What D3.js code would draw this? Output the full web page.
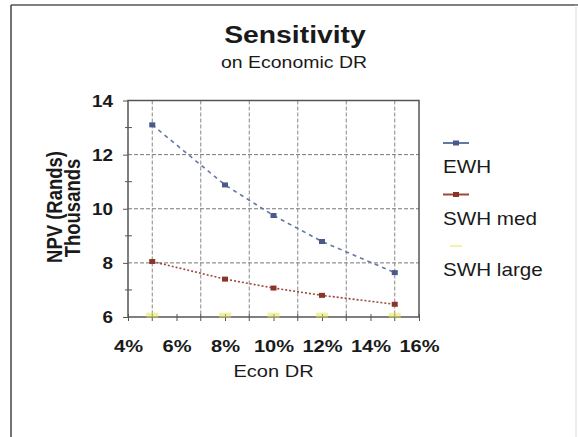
<!DOCTYPE html>
<html>
<head>
<meta charset="utf-8">
<script src="https://cdn.jsdelivr.net/npm/d3@7"></script>
<style>
  html, body { margin: 0; padding: 0; background: #fff; }
  text { font-family: Arial, "Liberation Sans", sans-serif; fill: #1a1a1a; }
</style>
</head>
<body>
<div id="chart"></div>
<script>
// values
var rates = [0.05, 0.08, 0.10, 0.12, 0.15];
var ewh = [13.1, 10.88, 9.75, 8.79, 7.64];
var swhMed = [8.05, 7.4, 7.07, 6.8, 6.47];
var swhLarge = [6.05, 6.05, 6.05, 6.05, 6.05];

var seriesNames = ["EWH", "SWH med", "SWH large"];
var seriesColors = ["#6577a6", "#9a4a3c", "#eded6a"];
var markerColors = ["#4a5a88", "#8a3626", "#e6e65a"];

var xTicks = [0.04, 0.06, 0.08, 0.10, 0.12, 0.14, 0.16];
var xMinor = [0.05, 0.07, 0.09, 0.11, 0.13, 0.15];
var yTicks = [6, 8, 10, 12, 14];
var yMinor = [7, 9, 11, 13];

var w = 578;
var h = 437;
var stretch = 1.18; // the scanned picture is wider than tall

var svg = d3.select("#chart")
            .append("svg")
            .attr("width", w)
            .attr("height", h)

var xScale = d3.scaleLinear()
               .domain([0.04, 0.16])
               .range([128, 419]);

var yScale = d3.scaleLinear()
               .domain([6, 14])
               .range([317, 100.5]);

// outer chart frame
svg.append("line").attr("x1", 11).attr("x2", 11).attr("y1", 5).attr("y2", h)
   .attr("stroke", "#444").attr("stroke-width", 1.5)
svg.append("line").attr("x1", 11).attr("x2", w).attr("y1", 5).attr("y2", 5)
   .attr("stroke", "#555").attr("stroke-width", 1.5)
svg.append("line").attr("x1", 576).attr("x2", 576).attr("y1", 5).attr("y2", h)
   .attr("stroke", "#ddd").attr("stroke-width", 1)

function label(x, y, txt, size, weight, anchor, rotate) {
  return svg.append("text")
    .attr("transform", "translate(" + x + "," + y + ") scale(" + stretch + ",1)" + (rotate ? " rotate(-90)" : ""))
    .attr("text-anchor", anchor || "middle")
    .style("font-size", size + "px")
    .style("font-weight", weight || "normal")
    .text(txt)
}

// titles
label(295, 43, "Sensitivity", 24, "bold")
label(294, 68, "on Economic DR", 16.5)
label(273.5, 377, "Econ DR", 17)
label(62, 207, "NPV (Rands)", 18.5, "bold", "middle", true)
label(80, 208, "Thousands", 18.5, "bold", "middle", true)

// gridlines
svg.append("g")
   .selectAll("line")
   .data(yTicks.slice(1, -1))
   .enter()
   .append("line")
   .attr("x1", xScale(0.04)).attr("x2", xScale(0.16))
   .attr("y1", function(d) { return yScale(d); })
   .attr("y2", function(d) { return yScale(d); })
   .attr("stroke", "#777").attr("stroke-width", 1).attr("stroke-dasharray", "4,2")

svg.append("g")
   .selectAll("line")
   .data(xMinor)
   .enter()
   .append("line")
   .attr("x1", function(d) { return xScale(d); })
   .attr("x2", function(d) { return xScale(d); })
   .attr("y1", yScale(14)).attr("y2", yScale(6))
   .attr("stroke", "#888").attr("stroke-width", 1).attr("stroke-dasharray", "4,2")

// plot frame
svg.append("rect")
   .attr("x", xScale(0.04)).attr("y", yScale(14))
   .attr("width", xScale(0.16) - xScale(0.04))
   .attr("height", yScale(6) - yScale(14))
   .attr("fill", "none").attr("stroke", "#555").attr("stroke-width", 1.5)

// axes
var yAxis = d3.axisLeft(yScale).tickValues(yTicks).tickSize(5).tickSizeOuter(0);
var gy = svg.append("g")
   .attr("class", "axis")
   .attr("transform", "translate(" + xScale(0.04) + ",0)")
   .call(yAxis);
gy.select(".domain").remove();
gy.selectAll("line").attr("stroke", "#555");
gy.selectAll("text")
  .attr("x", -15 / stretch)
  .attr("dy", "0.36em")
  .attr("transform", "scale(" + stretch + ",1)")
  .style("font-size", "16px").style("font-weight", "bold")
  .style("font-family", "Arial, 'Liberation Sans', sans-serif").attr("fill", "#1a1a1a");

var xAxis = d3.axisBottom(xScale).tickValues(xTicks).tickSize(4).tickSizeOuter(0)
              .tickFormat(d3.format(".0%"));
var gx = svg.append("g")
   .attr("class", "axis")
   .attr("transform", "translate(0," + yScale(6) + ")")
   .call(xAxis);
gx.select(".domain").remove();
gx.selectAll("line").attr("stroke", "#555").attr("y1", -3);
gx.selectAll("text")
  .attr("y", 35)
  .attr("dy", null)
  .attr("transform", "scale(" + stretch + ",1)")
  .style("font-size", "17px").style("font-weight", "bold")
  .style("font-family", "Arial, 'Liberation Sans', sans-serif").attr("fill", "#1a1a1a");

// minor ticks crossing the axes
svg.append("g")
   .selectAll("line")
   .data(yMinor)
   .enter()
   .append("line")
   .attr("x1", xScale(0.04) - 3).attr("x2", xScale(0.04) + 4)
   .attr("y1", function(d) { return yScale(d); })
   .attr("y2", function(d) { return yScale(d); })
   .attr("stroke", "#555")

svg.append("g")
   .selectAll("line")
   .data(xMinor)
   .enter()
   .append("line")
   .attr("x1", function(d) { return xScale(d); })
   .attr("x2", function(d) { return xScale(d); })
   .attr("y1", yScale(6) - 3).attr("y2", yScale(6) + 4)
   .attr("stroke", "#555")

// series
var allSeries = [ewh, swhMed, swhLarge];
var dashes = ["4,4", "2,2", null];

var line = d3.line()
             .x(function(d) { return xScale(d[0]); })
             .y(function(d) { return yScale(d[1]); });

allSeries.forEach(function(vals, i) {
  var pts = rates.map(function(r, j) { return [r, vals[j]]; });
  // the yellow series hides in the bottom axis, only its points glow
  if (i < 2) {
    svg.append("path")
       .datum(pts)
       .attr("d", line)
       .attr("fill", "none")
       .attr("stroke", seriesColors[i])
       .attr("stroke-width", 1.6)
       .attr("stroke-dasharray", dashes[i])
  }

  svg.append("g")
     .selectAll("rect")
     .data(pts)
     .enter()
     .append("rect")
     .attr("x", function(d) { return xScale(d[0]) - (i == 2 ? 6 : 3); })
     .attr("y", function(d) { return yScale(d[1]) - (i == 2 ? 3 : 2.5); })
     .attr("width", i == 2 ? 12 : 6)
     .attr("height", i == 2 ? 5 : 5)
     .attr("fill", markerColors[i])
     .attr("fill-opacity", i == 2 ? 0.55 : 1)
})

// legend
var legendY = [143, 194.5, 246];
seriesNames.forEach(function(name, i) {
  svg.append("line")
     .attr("x1", i == 2 ? 450 : 443).attr("x2", i == 2 ? 462 : 469)
     .attr("y1", legendY[i]).attr("y2", legendY[i])
     .attr("stroke", seriesColors[i]).attr("stroke-width", 2)
     .attr("stroke-opacity", i == 2 ? 0.6 : 1)
  if (i < 2) {
    svg.append("rect")
       .attr("x", 453).attr("y", legendY[i] - 2.5)
       .attr("width", 6).attr("height", 5)
       .attr("fill", markerColors[i])
  }
  label(443, legendY[i] + 30, name, 17.5, "normal", "start")
})
</script>
</body>
</html>
